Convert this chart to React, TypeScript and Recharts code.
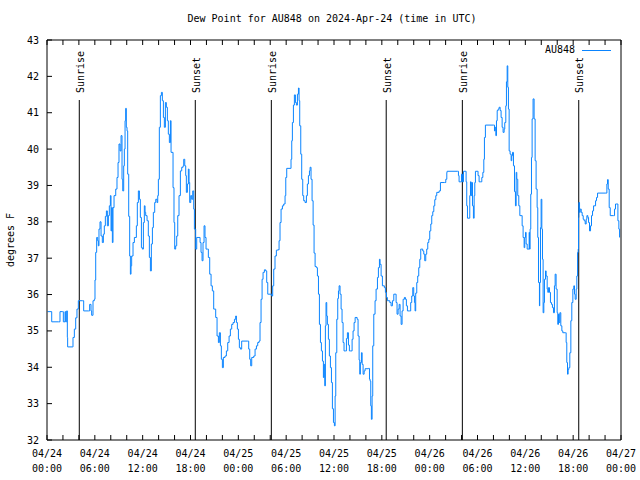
import React from "react";
import { LineChart, Line, XAxis, YAxis, ReferenceLine, Legend } from "recharts";

// [hours since 04/24 00:00 UTC, dew point °F]
const obsDay1: [number, number][] = [
  [0.08, 35.53], [0.5, 35.53], [0.59, 35.25], [1.42, 35.25], [1.63, 35.53], [1.92, 35.53], [2.05, 35.25], [2.26, 35.53],
  [2.34, 35.25], [2.47, 35.55], [2.55, 34.82], [2.59, 34.56], [3.18, 34.56], [3.26, 34.82], [3.43, 35.05], [3.6, 35.36],
  [3.76, 35.6], [3.93, 35.83], [4.43, 35.83], [4.6, 35.55], [5.19, 35.55], [5.35, 35.73], [5.52, 35.55], [5.6, 35.43],
  [5.77, 35.83], [5.94, 35.87], [6.02, 36.4], [6.11, 37.16], [6.23, 37.57], [6.36, 37.48], [6.44, 37.34], [6.52, 37.8],
  [6.65, 38.0], [6.78, 37.61], [6.94, 37.43], [7.07, 37.66], [7.19, 37.89], [7.32, 38.15], [7.45, 38.3], [7.57, 37.89],
  [7.7, 38.17], [7.82, 38.44], [7.95, 38.72], [8.03, 37.75], [8.11, 38.39], [8.2, 37.43], [8.28, 38.39], [8.41, 38.72],
  [8.62, 38.9], [8.78, 39.22], [8.91, 39.63], [9.03, 40.14], [9.16, 39.95], [9.29, 40.37], [9.41, 39.17], [9.5, 38.85],
  [9.62, 39.54], [9.7, 40.0], [9.79, 40.78], [9.87, 41.12], [9.95, 40.6], [10.04, 40.5], [10.12, 39.31], [10.25, 38.15],
  [10.37, 37.06], [10.46, 36.56], [10.54, 36.79], [10.62, 37.06], [10.79, 37.43], [10.96, 37.57], [11.21, 37.89], [11.33, 38.53],
  [11.46, 38.85], [11.59, 38.62], [11.71, 38.12], [11.84, 37.29], [11.96, 37.25], [12.09, 37.98], [12.21, 38.44], [12.3, 38.26],
  [12.38, 38.17], [12.55, 38.03], [12.71, 37.61], [12.84, 37.02], [12.97, 36.65], [13.09, 37.39], [13.22, 37.84], [13.34, 38.26],
  [13.51, 38.53], [13.64, 38.62], [13.8, 38.53], [13.89, 38.72], [13.97, 39.17], [14.09, 40.6], [14.22, 41.47], [14.35, 41.56],
  [14.47, 41.33], [14.6, 40.87], [14.72, 40.6], [14.85, 41.28], [14.97, 41.15], [15.1, 40.78], [15.22, 40.41], [15.35, 40.18],
  [15.48, 40.78], [15.56, 39.91], [15.81, 38.94], [15.93, 37.98], [16.02, 37.25], [16.14, 37.34], [16.27, 37.61], [16.4, 38.17],
  [16.56, 38.72], [16.73, 39.4], [16.9, 39.5], [17.07, 39.54], [17.15, 39.72], [17.28, 39.54], [17.4, 39.27], [17.48, 38.81],
  [17.61, 39.04], [17.73, 39.45], [17.82, 39.08], [17.9, 38.53], [18.03, 38.72], [18.15, 38.62], [18.28, 38.85], [18.4, 38.35],
  [18.49, 37.8], [18.65, 37.25], [18.78, 37.57], [19.07, 37.57], [19.2, 37.43], [19.32, 37.16], [19.45, 36.93], [19.57, 37.43],
  [19.7, 37.89], [19.82, 37.57], [19.95, 37.25], [20.12, 37.25], [20.24, 37.02], [20.41, 36.56], [20.58, 36.24], [20.74, 36.1],
  [20.91, 35.6], [21.16, 35.37], [21.33, 34.86], [21.5, 34.68], [21.62, 34.95], [21.75, 34.59], [21.87, 34.22], [22.0, 33.99],
  [22.12, 34.27], [22.33, 34.31], [22.5, 34.45], [22.67, 34.68], [22.84, 34.86], [23.0, 35.05], [23.17, 35.18], [23.34, 35.23],
  [23.51, 35.32], [23.67, 35.41], [23.76, 35.23], [23.88, 35.05],
];

const obsDay2: [number, number][] = [
  [24.01, 34.77], [24.13, 34.54], [24.26, 34.5], [24.42, 34.72], [25.18, 34.72], [25.3, 34.5], [25.43, 34.22], [25.55, 34.04],
  [25.68, 34.27], [25.93, 34.31], [26.1, 34.5], [26.27, 34.59], [26.43, 34.68], [26.6, 34.72], [26.72, 35.23], [26.85, 35.87],
  [26.98, 36.42], [27.1, 36.61], [27.27, 36.68], [27.43, 36.65], [27.56, 36.33], [27.69, 36.01], [28.19, 35.96], [28.31, 36.24],
  [28.44, 36.7], [28.6, 37.06], [28.77, 37.22], [28.94, 37.23], [29.11, 37.48], [29.23, 37.98], [29.36, 38.35], [29.53, 38.44],
  [29.69, 38.49], [29.86, 38.72], [29.95, 39.22], [30.07, 39.47], [30.49, 39.47], [30.61, 39.72], [30.7, 40.23], [30.78, 40.73],
  [30.91, 41.21], [31.03, 41.49], [31.16, 41.28], [31.28, 41.21], [31.41, 41.51], [31.54, 41.68], [31.62, 41.33], [31.7, 40.64],
  [31.83, 39.86], [31.95, 39.17], [32.08, 38.72], [32.2, 38.58], [32.37, 38.53], [32.54, 38.72], [32.66, 39.04], [32.79, 39.27],
  [32.92, 39.4], [33.0, 39.5], [33.12, 39.17], [33.25, 38.58], [33.38, 37.91], [33.5, 37.14], [33.63, 36.77], [33.79, 36.74],
  [33.92, 36.51], [34.05, 36.01], [34.17, 35.18], [34.3, 34.68], [34.42, 34.45], [34.55, 34.17], [34.67, 33.72], [34.76, 34.08],
  [34.84, 33.49], [34.92, 35.14], [35.0, 35.78], [35.09, 35.41], [35.17, 35.18], [35.3, 34.77], [35.42, 34.31], [35.55, 33.99],
  [35.68, 33.58], [35.8, 32.86], [35.93, 32.48], [36.05, 32.39], [36.14, 33.21], [36.22, 34.4], [36.35, 35.32], [36.47, 35.89],
  [36.56, 36.1], [36.64, 36.24], [36.76, 36.01], [36.89, 35.6], [37.01, 35.23], [37.14, 34.68], [37.26, 34.45], [37.43, 34.45],
  [37.56, 34.79], [37.68, 34.95], [37.81, 34.61], [37.93, 34.45], [38.1, 34.45], [38.27, 34.77], [38.39, 35.0], [38.52, 35.23],
  [38.65, 35.37], [38.9, 35.32], [39.02, 34.86], [39.15, 34.2], [39.23, 33.81], [39.31, 34.13], [39.44, 34.4], [39.53, 34.08],
  [39.65, 33.81], [39.78, 33.9], [39.9, 33.96], [40.32, 33.97], [40.45, 33.67], [40.53, 33.62], [40.61, 32.94], [40.69, 32.57],
  [40.78, 33.21], [40.86, 34.59], [40.99, 35.46], [41.15, 35.83], [41.28, 36.15], [41.45, 36.47], [41.57, 36.74], [41.7, 36.97],
  [41.78, 36.83], [41.91, 36.51], [42.07, 36.24], [42.32, 36.19], [42.45, 36.06], [42.58, 35.92], [42.7, 35.83], [43.0, 35.78],
  [43.16, 35.69], [43.33, 35.83], [43.5, 36.01], [43.66, 36.01], [43.79, 35.78], [43.91, 35.46], [44.04, 35.6], [44.17, 35.73],
  [44.29, 35.41], [44.42, 35.18], [44.54, 35.55], [44.67, 35.87], [44.83, 35.92], [44.96, 35.87], [45.08, 35.69], [45.21, 35.55],
  [45.5, 35.55], [45.62, 35.78], [45.75, 35.96], [45.88, 36.19], [46.0, 35.96], [46.09, 35.78], [46.17, 35.55], [46.25, 36.04],
  [46.38, 36.33], [46.5, 36.51], [46.63, 36.74], [46.76, 36.97], [46.88, 37.25], [47.01, 37.25], [47.13, 37.2], [47.26, 37.11],
  [47.38, 36.93], [47.51, 37.11], [47.63, 37.25], [47.76, 37.43], [47.89, 37.52],
];

const obsDay3: [number, number][] = [
  [48.01, 37.75], [48.14, 37.94], [48.26, 38.17], [48.39, 38.28], [48.52, 38.44], [48.64, 38.61], [48.77, 38.72], [48.89, 38.81],
  [49.19, 38.85], [49.35, 39.08], [49.85, 39.08], [50.02, 39.17], [50.15, 39.36], [50.19, 39.39], [51.49, 39.39], [51.61, 39.27],
  [51.69, 39.1], [51.86, 39.1], [51.99, 39.31], [52.11, 39.1], [52.24, 39.39], [52.45, 39.39], [52.57, 39.1], [52.65, 38.44],
  [52.74, 38.1], [52.95, 38.1], [53.03, 38.72], [53.12, 39.1], [53.2, 38.72], [53.28, 39.08], [53.37, 38.44], [53.49, 38.1],
  [53.58, 38.72], [53.66, 39.08], [53.74, 39.39], [53.95, 39.39], [54.07, 39.27], [54.2, 39.1], [54.41, 39.1], [54.54, 39.22],
  [54.67, 39.36], [54.79, 39.72], [54.87, 40.32], [54.99, 40.66], [56.0, 40.66], [56.13, 40.5], [56.21, 40.6], [56.3, 40.37],
  [56.38, 40.78], [56.47, 41.06], [56.59, 41.1], [56.71, 41.15], [56.84, 41.06], [56.96, 40.87], [57.09, 40.6], [57.21, 40.46],
  [57.34, 40.55], [57.42, 40.73], [57.55, 41.19], [57.63, 41.85], [57.72, 42.29], [57.8, 41.7], [57.88, 41.1], [57.97, 39.95],
  [58.09, 39.86], [58.22, 39.68], [58.3, 39.82], [58.39, 39.91], [58.51, 39.54], [58.64, 38.83], [58.76, 38.44], [58.85, 39.36],
  [58.93, 39.17], [59.05, 38.72], [59.18, 38.44], [59.31, 38.17], [59.47, 38.17], [59.6, 37.89], [59.72, 37.57], [59.85, 37.29],
  [59.93, 37.57], [60.02, 37.71], [60.1, 37.39], [60.23, 37.25], [60.35, 37.25], [60.48, 37.71], [60.52, 37.25], [60.6, 37.8],
  [60.68, 38.76], [60.77, 39.77], [60.85, 40.83], [60.97, 41.38], [61.1, 40.83], [61.23, 39.68], [61.35, 38.9], [61.48, 38.39],
  [61.56, 37.57], [61.65, 36.33], [61.77, 35.69], [61.81, 36.33], [61.9, 37.84], [61.98, 38.62], [62.07, 37.8], [62.15, 36.97],
  [62.23, 35.5], [62.32, 35.78], [62.4, 36.42], [62.53, 36.65], [62.61, 36.51], [62.74, 36.15], [62.82, 36.06], [62.9, 36.19],
  [63.03, 36.06], [63.15, 35.78], [63.28, 35.73], [63.4, 35.64], [63.53, 35.5], [63.65, 36.24], [63.74, 36.56], [63.86, 36.15],
  [63.99, 35.5], [64.07, 35.18], [64.16, 35.46], [64.24, 35.23], [64.33, 35.5], [64.45, 35.14], [64.58, 35.0], [64.7, 34.95],
  [65.03, 34.95], [65.12, 34.68], [65.2, 34.13], [65.29, 33.81], [65.37, 33.94], [65.46, 33.99], [65.58, 34.4], [65.71, 35.28],
  [65.83, 35.78], [65.96, 36.15], [66.08, 36.24], [66.17, 36.01], [66.25, 35.87], [66.38, 36.15], [66.46, 36.51], [66.55, 37.16],
  [66.63, 37.25], [66.67, 38.12], [66.71, 38.53], [66.8, 38.26], [66.88, 38.35], [67.01, 38.26], [67.13, 38.17], [67.26, 38.07],
  [67.38, 38.03], [67.51, 37.94], [67.63, 38.07], [67.72, 38.17], [67.84, 38.12], [67.93, 37.98], [68.05, 37.75], [68.18, 37.89],
  [68.3, 38.17], [68.43, 38.3], [68.56, 38.44], [68.81, 38.58], [68.93, 38.67], [69.06, 38.79], [70.1, 38.79], [70.23, 39.04],
  [70.31, 39.16], [70.4, 38.9], [70.52, 38.39], [70.65, 38.17], [71.06, 38.17], [71.19, 38.35], [71.31, 38.49], [71.48, 38.49],
  [71.61, 38.03], [71.73, 37.8], [71.82, 37.57],
];

const sunNames = ["Sunrise", "Sunset", "Sunrise", "Sunset", "Sunrise", "Sunset"];
const sunHours = [4.05, 18.6, 28.14, 42.55, 52.1, 66.7];
const sunLineTop = 41.35;

const xTicks = [0, 2, 4, 6, 8, 10, 12, 14, 16, 18, 20, 22, 24, 26, 28, 30, 32, 34, 36, 38, 40, 42, 44, 46, 48, 50, 52, 54, 56, 58, 60, 62, 64, 66, 68, 70, 72];
const dateLabels = ["04/24", "04/24", "04/24", "04/24", "04/25", "04/25", "04/25", "04/25", "04/26", "04/26", "04/26", "04/26", "04/27"];
const timeLabels = ["00:00", "06:00", "12:00", "18:00"];
const yTicks = [32, 33, 34, 35, 36, 37, 38, 39, 40, 41, 42, 43];

const FONT = "'DejaVu Sans Mono', monospace";

const data = [...obsDay1, ...obsDay2, ...obsDay3].map(([hour, dew]) => ({ hour, dew }));

const TimeTick = (props: any) => {
  const { x, y, payload } = props;
  const v = payload.value;
  if (v % 6 !== 0) return <g />;
  const i = v / 6;
  return (
    <text x={x} y={y} textAnchor="middle" fontSize={10} fontFamily={FONT} fill="#000">
      <tspan x={x} dy={17}>{dateLabels[i]}</tspan>
      <tspan x={x} dy={15}>{timeLabels[i % 4]}</tspan>
    </text>
  );
};

const sunLabel = (text: string) => (props: any) => {
  const vb = props.viewBox || {};
  const x = vb.x + 4.5;
  const y = vb.y - 7;
  return (
    <text x={x} y={y} transform={`rotate(-90 ${x} ${y})`} fontSize={10} fontFamily={FONT} fill="#000">
      {text}
    </text>
  );
};

const renderLegend = (props: any) => {
  const { payload = [] } = props;
  return (
    <div style={{ display: "flex", alignItems: "center", fontFamily: FONT, fontSize: 10, lineHeight: "12px", color: "#000" }}>
      {payload.map((p: any) => (
        <React.Fragment key={p.value}>
          <span>{p.value}</span>
          <svg width={29} height={3} style={{ marginLeft: 7 }}>
            <line x1={0} y1={1.5} x2={29} y2={1.5} stroke={p.color} strokeWidth={1} />
          </svg>
        </React.Fragment>
      ))}
    </div>
  );
};

const App = () => {
  return (
    <div style={{ position: "absolute", left: 0, top: 0, width: 640, height: 480, background: "#fff" }}>
      <div
        style={{
          position: "absolute", left: 0, top: 13, width: 664, textAlign: "center",
          fontFamily: FONT, fontSize: 10, lineHeight: "12px", color: "#000",
        }}
      >
        Dew Point for AU848 on 2024-Apr-24 (time in UTC)
      </div>
      <LineChart width={640} height={480} data={data} margin={{ top: 20, right: 9, bottom: 10, left: 0 }}>
        <XAxis
          dataKey="hour" type="number" domain={[0, 72]} ticks={xTicks} interval={0}
          tick={<TimeTick />} tickSize={-5} tickMargin={5} height={30} stroke="#000"
        />
        <XAxis
          xAxisId="top" orientation="top" dataKey="hour" type="number" domain={[0, 72]} ticks={xTicks} interval={0}
          tickFormatter={() => ""} tickSize={-5} height={20} stroke="#000"
        />
        <YAxis
          domain={[32, 43]} ticks={yTicks} interval={0} tickSize={-5} tickMargin={13} width={47} stroke="#000"
          tick={{ fill: "#000", fontSize: 10, fontFamily: FONT }}
          label={{ value: "degrees F", angle: -90, position: "insideLeft", offset: 10, fill: "#000", fontSize: 10, fontFamily: FONT, style: { textAnchor: "middle" } }}
        />
        <YAxis
          yAxisId="right" orientation="right" domain={[32, 43]} ticks={yTicks} interval={0}
          tickFormatter={() => ""} tickSize={-5} width={10} stroke="#000"
        />
        {sunHours.map((h, i) => (
          <ReferenceLine
            key={i}
            segment={[{ x: h, y: 32 }, { x: h, y: sunLineTop }]}
            stroke="#000" strokeWidth={1}
            label={sunLabel(sunNames[i])}
          />
        ))}
        <Line
          dataKey="dew" name="AU848" type="stepAfter" stroke="#0a84ff" strokeWidth={1}
          dot={false} activeDot={false} isAnimationActive={false}
        />
        <Legend
          content={renderLegend} layout="horizontal" align="center" verticalAlign="middle"
          wrapperStyle={{ top: 44, left: 545, width: "auto", height: "auto" }}
        />
      </LineChart>
    </div>
  );
};

export default App;
